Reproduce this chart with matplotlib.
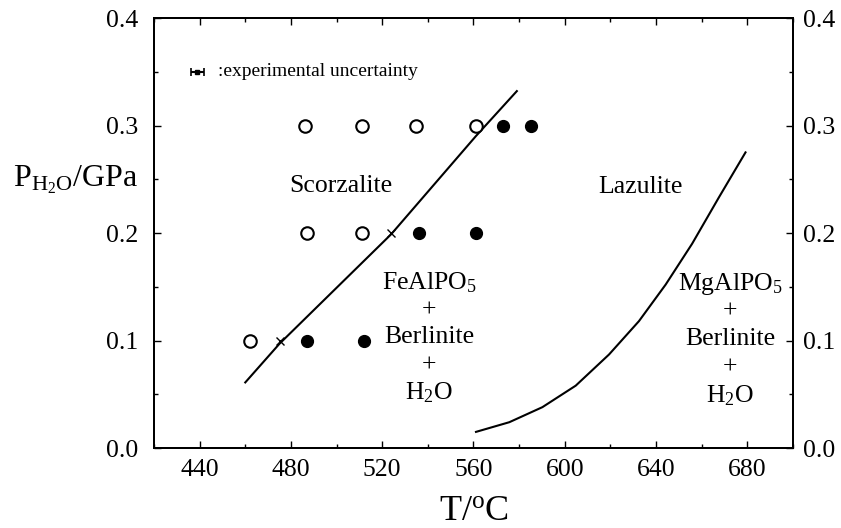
import matplotlib.pyplot as plt
from matplotlib.ticker import MultipleLocator

plt.rcParams["font.family"] = ["Liberation Serif", "DejaVu Serif"]
plt.rcParams["mathtext.fontset"] = "custom"
plt.rcParams["mathtext.rm"] = "Liberation Serif"
plt.rcParams["mathtext.it"] = "Liberation Serif:italic"

# Experimental runs (T in degC, P in GPa)
open_t = [486, 511, 535, 561, 487, 511, 462]
open_p = [0.3, 0.3, 0.3, 0.3, 0.2, 0.2, 0.1]
filled_t = [573, 585, 536, 561, 487, 512]
filled_p = [0.3, 0.3, 0.2, 0.2, 0.1, 0.1]
cross_t = [524, 475]
cross_p = [0.2, 0.1]

# Phase boundaries
scorz_t = [460, 475, 524, 561, 579]
scorz_p = [0.061, 0.097, 0.199, 0.290, 0.332]
lazul_t = [561.1, 575.7, 590.2, 604.8, 619.4, 632.5, 644.2, 655.8, 667.5, 679.2]
lazul_p = [0.015, 0.024, 0.038, 0.058, 0.087, 0.118, 0.152, 0.190, 0.233, 0.275]

# Uncertainty symbol
unc_t, unc_p, unc_err = 439, 0.350, 3

xticks = [440, 480, 520, 560, 600, 640, 680]
yticks = [0.0, 0.1, 0.2, 0.3, 0.4]

fig = plt.figure(figsize=(8.41, 5.28), dpi=100)
ax = fig.add_axes([0.1831, 0.1515, 0.7598, 0.8144])

ax.plot(scorz_t, scorz_p, color="black", lw=1.5)
ax.plot(lazul_t, lazul_p, color="black", lw=1.5, solid_joinstyle="round")

ax.plot(open_t, open_p, "o", ms=9, mfc="white", mec="black", mew=1.5, ls="none")
ax.plot(filled_t, filled_p, "o", ms=8.5, color="black", ls="none")
ax.plot(cross_t, cross_p, "x", ms=6, color="black", mew=1, ls="none")

ax.errorbar([unc_t], [unc_p], xerr=[unc_err], fmt="s", ms=2.5, color="black",
            capsize=3, elinewidth=1.5, capthick=1.2)
ax.text(448, unc_p, ":experimental uncertainty", fontsize=14, va="center",
        ha="left")

# Field labels
fs = 18.5
ax.text(502, 0.244, "Scorzalite", fontsize=fs, ha="center", va="center")
ax.text(633, 0.2425, "Lazulite", fontsize=fs, ha="center", va="center")

fe_lines = ["FeAlPO$_5$", "+", "Berlinite", "+", "H$_2$O"]
fe_y = [0.154, 0.128, 0.1035, 0.077, 0.051]
for s, yy in zip(fe_lines, fe_y):
    ax.text(540.5, yy, s, fontsize=fs, ha="center", va="center")

mg_lines = ["MgAlPO$_5$", "+", "Berlinite", "+", "H$_2$O"]
mg_y = [0.153, 0.127, 0.101, 0.075, 0.049]
for s, yy in zip(mg_lines, mg_y):
    ax.text(672.5, yy, s, fontsize=fs, ha="center", va="center")

ax.set_xlim(420, 700)
ax.set_ylim(0, 0.4)
ax.set_xticks(xticks)
ax.xaxis.set_minor_locator(MultipleLocator(20))
ax.set_yticks(yticks)
ax.yaxis.set_minor_locator(MultipleLocator(0.05))
ax.yaxis.set_major_formatter(plt.FormatStrFormatter("%.1f"))

ax.tick_params(which="both", direction="in", top=True, right=True,
               labelsize=18.5)
ax.tick_params(axis="x", pad=8)
ax.tick_params(axis="y", pad=11)
ax.tick_params(which="major", length=5, width=1)
ax.tick_params(which="minor", length=3, width=1)
for sp in ax.spines.values():
    sp.set_linewidth(1.4)

# right-hand copy of the pressure scale
ax2 = ax.twinx()
ax2.set_ylim(ax.get_ylim())
ax2.set_yticks(yticks)
ax2.yaxis.set_minor_locator(MultipleLocator(0.05))
ax2.yaxis.set_major_formatter(plt.FormatStrFormatter("%.1f"))
ax2.tick_params(which="both", direction="in", labelsize=18.5, pad=7)
ax2.tick_params(which="major", length=5, width=1)
ax2.tick_params(which="minor", length=3, width=1)
for sp in ax2.spines.values():
    sp.set_linewidth(1.4)

ax.set_xlabel(r"T/$^\mathrm{o}$C", fontsize=26, labelpad=10)
fig.text(13 / 841, 1 - 180 / 528, r"P$_{\mathrm{H_2O}}$/GPa", fontsize=23,
         ha="left", va="center")

fig.savefig("out.png", dpi=100)
